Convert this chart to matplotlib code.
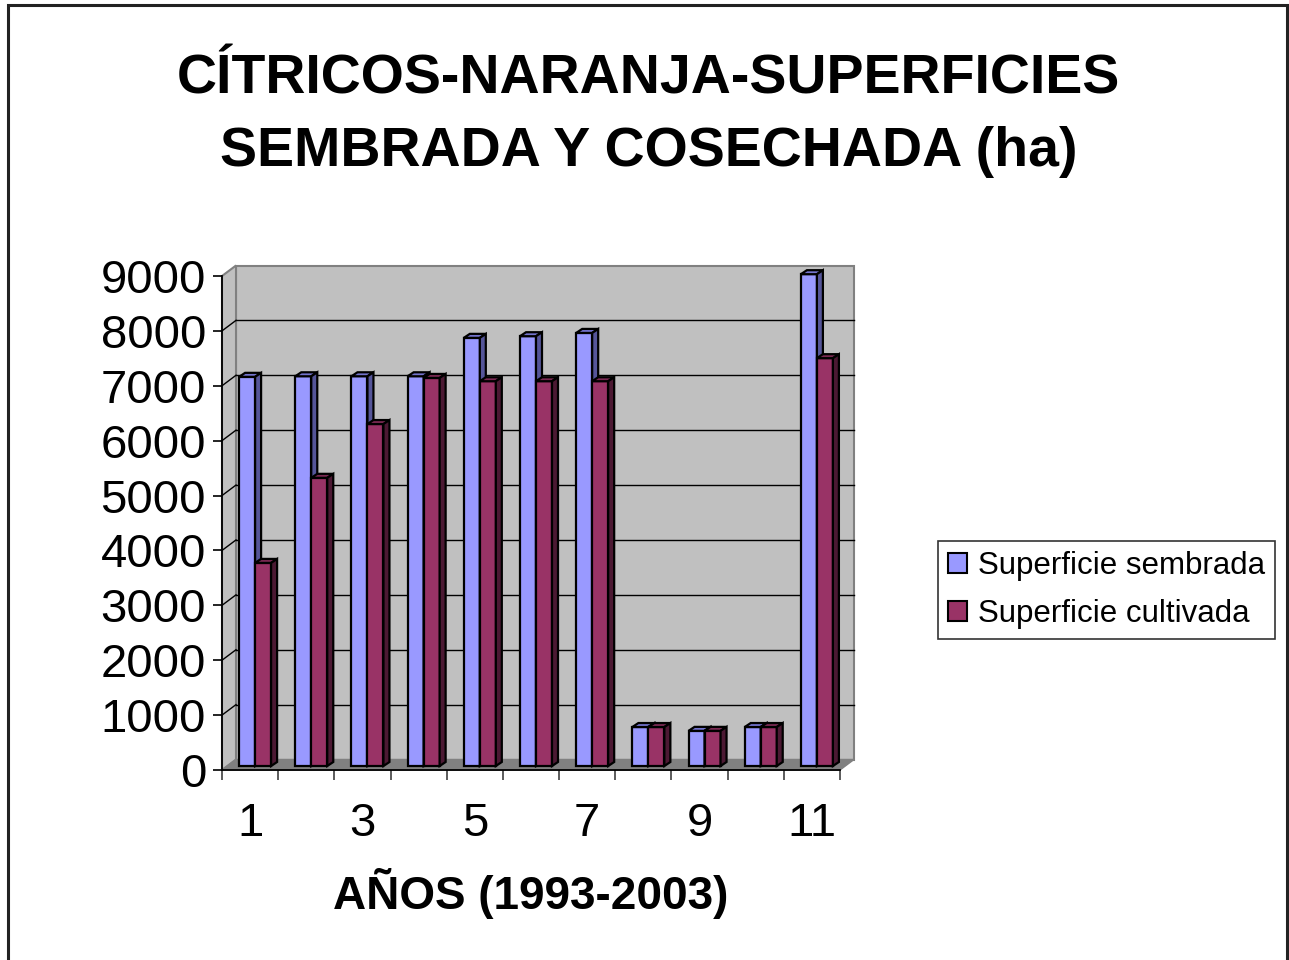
import matplotlib
matplotlib.use('Agg')
import matplotlib.pyplot as plt
from matplotlib.patches import Polygon, Rectangle, Patch
import numpy as np

plt.rcParams['font.family'] = ['Liberation Sans', 'DejaVu Sans']

# Data
years = np.arange(1, 12)
sembrada = [7090, 7100, 7100, 7100, 7800, 7830, 7890, 710, 640, 710, 8960]
cultivada = [3700, 5250, 6230, 7070, 7010, 7010, 7010, 710, 640, 710, 7430]
y_ticks = list(range(0, 9001, 1000))
x_tick_pos = [1, 3, 5, 7, 9, 11]
series_names = ['Superficie sembrada', 'Superficie cultivada']

# Colours: front, top, side
blue = ('#9999FF', '#7373CC', '#555599')
red = ('#993366', '#7A2952', '#4C1933')

W, H = 1289, 960
fig = plt.figure(figsize=(W / 100, H / 100), dpi=100)

# Front plane of the 3D box
ax = fig.add_axes([222 / W, 1 - 770 / H, 618 / W, 494 / H])
ax.set_xlim(0.5, 11.5)
ax.set_ylim(0, 9000)
ax.patch.set_visible(False)

# pixel -> data conversion factors
kx = 11.0 / 618
ky = 9000.0 / 494


def px(dx, dy):
    return dx * kx, dy * ky


# Wall depth and bar placement (in pixels)
wx, wy = px(14, 10.5)
bx, by = px(5, 4)
dx, dy = px(6, 4)
bw = 16 * kx

x0, x1 = 0.5, 11.5
ymax = 9000

# Back wall, side wall, floor
ax.add_patch(Polygon([(x0 + wx, wy), (x1 + wx, wy), (x1 + wx, ymax + wy), (x0 + wx, ymax + wy)],
                     closed=True, facecolor='#C0C0C0', edgecolor='#808080', lw=1.5, clip_on=False, zorder=1))
ax.add_patch(Polygon([(x0, 0), (x0, ymax), (x0 + wx, ymax + wy), (x0 + wx, wy)],
                     closed=True, facecolor='#C0C0C0', edgecolor='#808080', lw=1.5, clip_on=False, zorder=1))
ax.add_patch(Polygon([(x0, 0), (x1, 0), (x1 + wx, wy), (x0 + wx, wy)],
                     closed=True, facecolor='#808080', edgecolor='#808080', lw=1, clip_on=False, zorder=1))

# Gridlines on back and side walls
for yv in y_ticks[1:-1]:
    ax.plot([x0 + wx, x1 + wx], [yv + wy, yv + wy], color='black', lw=1, zorder=2, clip_on=False)
    ax.plot([x0, x0 + wx], [yv, yv + wy], color='black', lw=1, zorder=2, clip_on=False)


def draw_bar(xl, v, cols, z):
    ax.bar(xl + bx, v, width=bw, bottom=by, align='edge', color=cols[0],
           edgecolor='black', lw=1.6, zorder=z, clip_on=False)
    xr = xl + bx + bw
    top = v + by
    ax.add_patch(Polygon([(xl + bx, top), (xr, top), (xr + dx, top + dy), (xl + bx + dx, top + dy)],
                         closed=True, facecolor=cols[1], edgecolor='black', lw=1.6, zorder=z, clip_on=False))
    ax.add_patch(Polygon([(xr, by), (xr, top), (xr + dx, top + dy), (xr + dx, by + dy)],
                         closed=True, facecolor=cols[2], edgecolor='black', lw=1.6, zorder=z, clip_on=False))


for i, (s, c) in enumerate(zip(sembrada, cultivada)):
    x = years[i]
    draw_bar(x - bw, s, blue, 3 + 2 * i)
    draw_bar(x, c, red, 4 + 2 * i)

# Axes styling
for side in ['top', 'right']:
    ax.spines[side].set_visible(False)
for side in ['left', 'bottom']:
    ax.spines[side].set_color('black')
    ax.spines[side].set_linewidth(1.3)
    ax.spines[side].set_zorder(30)

ax.set_yticks(y_ticks)
ax.set_yticklabels([str(v) for v in y_ticks])
ax.tick_params(axis='y', direction='out', length=6.5, width=1.2, pad=5, labelsize=34)

ax.set_xticks(x_tick_pos)
ax.set_xticklabels([str(v) for v in x_tick_pos])
ax.set_xticks(np.arange(0.5, 12, 1), minor=True)
ax.tick_params(axis='x', which='major', length=0, pad=23, labelsize=34)
ax.tick_params(axis='x', which='minor', length=7, width=1.2, color='#404040')

ax.set_xlabel('AÑOS (1993-2003)', fontsize=33, fontweight='bold', labelpad=16)

# Title
fig.text(0.503, 1 - 79 / H, 'CÍTRICOS-NARANJA-SUPERFICIES', ha='center', va='center',
         fontsize=40, fontweight='bold')
fig.text(0.503, 1 - 152 / H, 'SEMBRADA Y COSECHADA (ha)', ha='center', va='center',
         fontsize=40, fontweight='bold')

# Legend
handles = [Patch(facecolor=blue[0], edgecolor='black', lw=1.5),
           Patch(facecolor=red[0], edgecolor='black', lw=1.5)]
leg = fig.legend(handles, series_names, loc='center left', bbox_to_anchor=(938 / W, 1 - 590 / H),
                 fontsize=22.5, frameon=True, fancybox=False, edgecolor='black',
                 handlelength=0.6, handleheight=0.6, handletextpad=0.35,
                 borderpad=0.32, labelspacing=0.6, borderaxespad=0)
leg.get_frame().set_linewidth(1.2)

# Outer frame
fig.patches.append(Rectangle((8 / W, -0.05), 1279 / W, 1.05 - 5 / H, transform=fig.transFigure,
                             fill=False, edgecolor='#222222', lw=2.2))

fig.savefig('out.png', dpi=100)
